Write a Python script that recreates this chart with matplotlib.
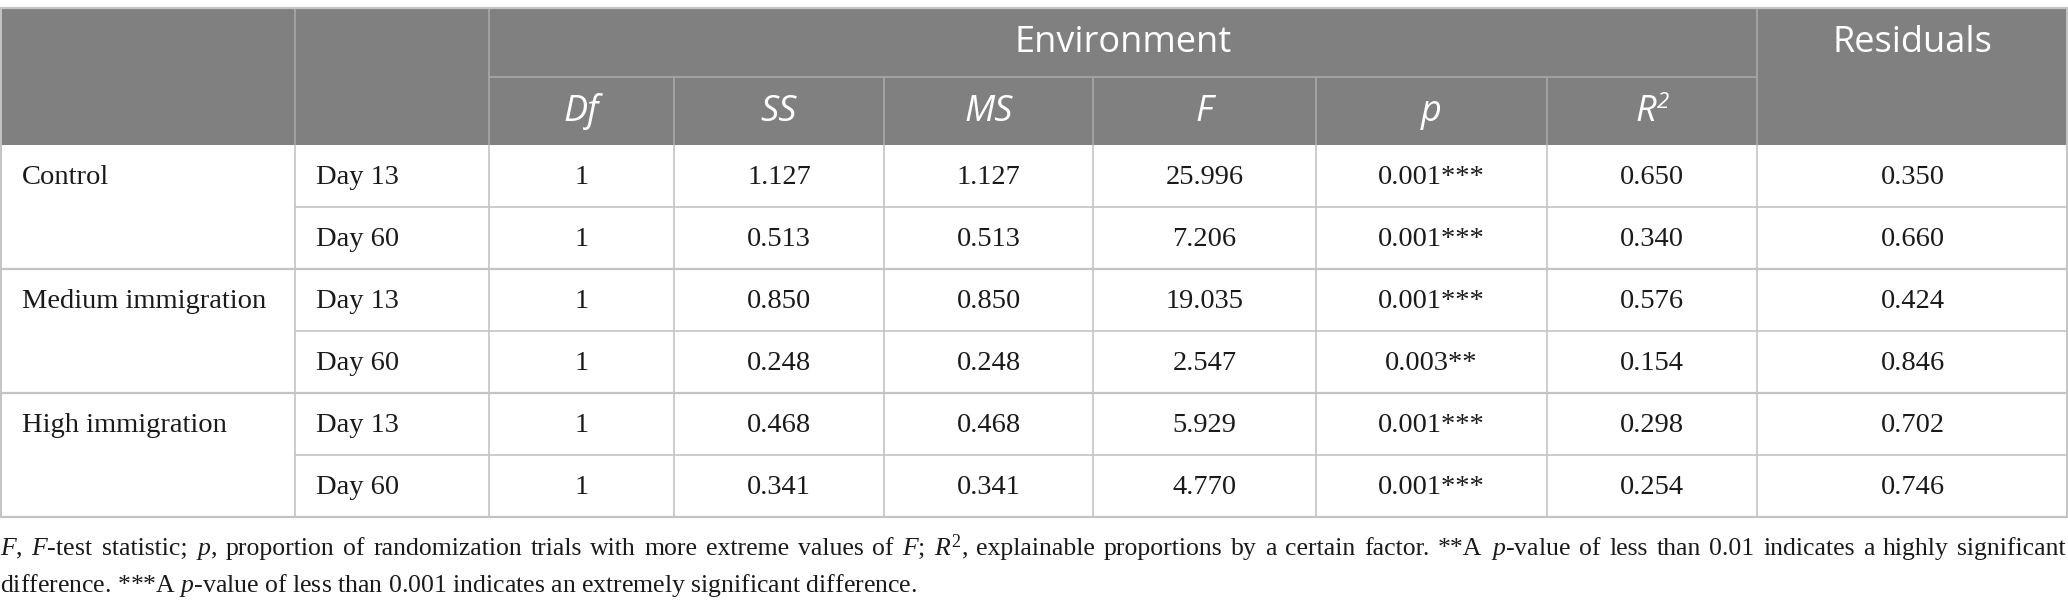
import matplotlib
matplotlib.use("Agg")
import matplotlib.pyplot as plt
from matplotlib.patches import Rectangle

plt.rcParams['mathtext.fontset'] = 'custom'
plt.rcParams['mathtext.rm'] = 'Liberation Serif'
plt.rcParams['mathtext.it'] = 'Liberation Serif:italic'

# table content
groups = ["Control", "Medium immigration", "High immigration"]
days = ["Day 13", "Day 60"]
col_headers = ["Df", "SS", "MS", "F", "p"]
df_vals = ["1", "1", "1", "1", "1", "1"]
ss_vals = ["1.127", "0.513", "0.850", "0.248", "0.468", "0.341"]
ms_vals = ["1.127", "0.513", "0.850", "0.248", "0.468", "0.341"]
f_vals = ["25.996", "7.206", "19.035", "2.547", "5.929", "4.770"]
p_vals = ["0.001***", "0.001***", "0.001***", "0.003**", "0.001***", "0.001***"]
r2_vals = ["0.650", "0.340", "0.576", "0.154", "0.298", "0.254"]
resid_vals = ["0.350", "0.660", "0.424", "0.846", "0.702", "0.746"]
note_line1 = ("$F$, $F$-test statistic; $p$, proportion of randomization trials with more extreme "
              "values of $F$; $R^2$, explainable proportions by a certain factor. **A $p$-value of "
              "less than 0.01 indicates a highly significant")
note_line2 = ("difference. ***A $p$-value of less than 0.001 indicates an extremely "
              "significant difference.")

# layout in pixels
W, H = 2068, 614
col_x = [0, 295, 489, 674, 884, 1093, 1316, 1547, 1757, 2068]
top, head_mid, head_bot = 8, 77, 145
row_h = 62
HEAD_BG = "#808080"
GRID = "#c4c4c4"
HEAD_GRID = "#a8a8a8"
SANS = "Open Sans"
SERIF = "Liberation Serif"

fig = plt.figure(figsize=(W / 100, H / 100), dpi=100)
ax = fig.add_axes([0, 0, 1, 1])
ax.set_xlim(0, W)
ax.set_ylim(H, 0)
ax.axis("off")

# header block
ax.add_patch(Rectangle((0, top), W, head_bot - top, color=HEAD_BG, lw=0))
ax.hlines(head_mid, col_x[2], col_x[8], color=HEAD_GRID, lw=1.2)
for i, x in enumerate(col_x[1:-1], start=1):
    y0 = head_mid if 2 < i < 8 else top
    ax.vlines(x, y0, head_bot, color=HEAD_GRID, lw=1.2)

hkw = dict(color="white", fontsize=26, family=SANS, ha="center", va="center")
ax.text((col_x[2] + col_x[8]) / 2, (top + head_mid) / 2 + 1, "Environment", **hkw)
ax.text((col_x[8] + col_x[9]) / 2, (top + head_mid) / 2 + 1, "Residuals", **hkw)
hy = (head_mid + head_bot) / 2 + 1
for j, h in enumerate(col_headers):
    xc = (col_x[j + 2] + col_x[j + 3]) / 2
    ax.text(xc, hy, h, style="italic", **hkw)
# R^2 header
xc = (col_x[7] + col_x[8]) / 2
ax.text(xc - 6, hy, "R", style="italic", **hkw)
ax.text(xc + 11, hy - 10, "2", color="white", fontsize=16, family=SANS,
        style="italic", ha="center", va="center")

# body
bot = head_bot + row_h * len(groups) * len(days)
bkw = dict(fontsize=20.5, family=SERIF, color="#1a1a1a", va="center")
columns = [df_vals, ss_vals, ms_vals, f_vals, p_vals, r2_vals, resid_vals]
for g, name in enumerate(groups):
    gy = head_bot + g * 2 * row_h
    ax.text(22, gy + row_h / 2 + 2, name, ha="left", **bkw)
    for d, day in enumerate(days):
        r = g * 2 + d
        ry = gy + d * row_h
        ax.text(col_x[1] + 21, ry + row_h / 2 + 2, day, ha="left", **bkw)
        for c, vals in enumerate(columns):
            xc = (col_x[c + 2] + col_x[c + 3]) / 2
            ax.text(xc, ry + row_h / 2 + 2, vals[r], ha="center", **bkw)
    # line between the two days (not under the group name)
    ax.hlines(gy + row_h, col_x[1], W, color=GRID, lw=1.2)
    ax.hlines(gy + 2 * row_h, 0, W, color=GRID, lw=1.6)

for x in col_x[1:-1]:
    ax.vlines(x, head_bot, bot, color=GRID, lw=1.2)
ax.vlines(0.7, top, bot, color=GRID, lw=1.4)
ax.vlines(W - 0.7, top, bot, color=GRID, lw=1.4)
ax.hlines(top, 0, W, color=GRID, lw=1.6)

# footnote; first line justified to the full width
nkw = dict(fontsize=18.5, family=SERIF, color="#1a1a1a", ha="left", va="baseline")
renderer = fig.canvas.get_renderer()
words = note_line1.split(" ")
arts = [ax.text(0, 555, w, **nkw) for w in words]
widths = [a.get_window_extent(renderer).width for a in arts]
gap = (W - 2 - sum(widths)) / (len(words) - 1)
x = 0
for a, w in zip(arts, widths):
    a.set_x(x)
    x += w + gap
ax.text(0, 592, note_line2, **nkw)

fig.savefig("out.png", dpi=100)
